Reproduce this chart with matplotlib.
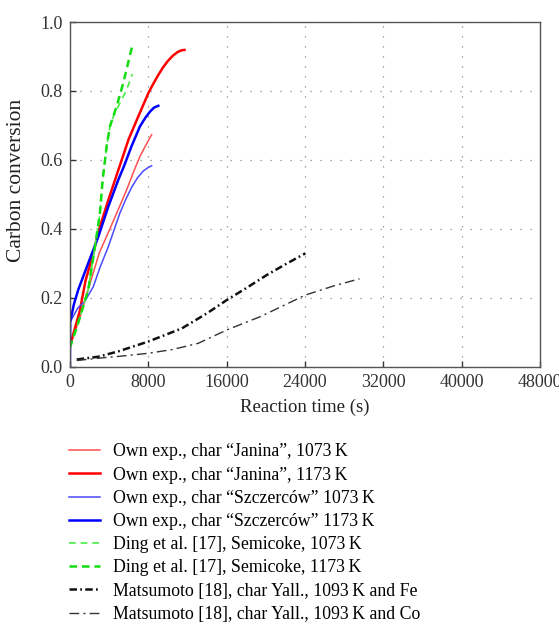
import matplotlib
matplotlib.use("Agg")
import matplotlib.pyplot as plt

plt.rcParams['font.family'] = ['Liberation Serif', 'DejaVu Serif']

# ---- data ----
janina_1073_x = [0, 500, 1000, 1500, 2150, 3000, 4090, 5000, 5790, 6500, 7150, 7800, 8350]
janina_1073_y = [0.06, 0.10, 0.14, 0.19, 0.25, 0.33, 0.40, 0.46, 0.513, 0.565, 0.61, 0.645, 0.673]

janina_1173_x = [0, 500, 1000, 1600, 2300, 3000, 4000, 5000, 6000, 7000, 8000, 8500, 9000, 9500,
                 10000, 10500, 11000, 11400, 11700]
janina_1173_y = [0.06, 0.11, 0.16, 0.25, 0.32, 0.40, 0.49, 0.575, 0.66, 0.727, 0.793, 0.82, 0.845,
                 0.868, 0.887, 0.902, 0.913, 0.918, 0.919]

szcz_1073_x = [0, 30, 800, 1530, 2390, 3100, 3920, 5110, 5700, 6300, 6900, 7500, 8000, 8350]
szcz_1073_y = [0.0, 0.13, 0.17, 0.19, 0.232, 0.29, 0.348, 0.446, 0.485, 0.52, 0.548, 0.568, 0.578, 0.583]

szcz_1173_x = [0, 30, 400, 850, 1870, 2900, 3920, 4940, 5500, 6300, 7150, 7700, 8180, 8600, 9030]
szcz_1173_y = [0.0, 0.13, 0.18, 0.223, 0.30, 0.377, 0.464, 0.542, 0.58, 0.64, 0.697, 0.722, 0.74, 0.752, 0.757]

ding_1073_x = [0, 850, 1870, 2560, 3070, 3340, 3750, 4090, 4500, 4940, 5790, 6370]
ding_1073_y = [0.055, 0.127, 0.223, 0.348, 0.446, 0.54, 0.639, 0.697, 0.73, 0.755, 0.803, 0.849]

ding_1173_x = [0, 850, 1870, 2560, 3070, 3340, 3750, 4090, 4770, 5450, 6370]
ding_1173_y = [0.055, 0.127, 0.223, 0.348, 0.446, 0.54, 0.639, 0.697, 0.755, 0.823, 0.931]

mats_fe_x = [700, 2900, 5000, 8000, 11420, 14000, 16050, 18000, 20100, 22000, 24050]
mats_fe_y = [0.021, 0.029, 0.045, 0.073, 0.111, 0.155, 0.194, 0.228, 0.266, 0.297, 0.329]

mats_co_x = [700, 3000, 5000, 8000, 10500, 13110, 16050, 19420, 22000, 24050, 27000, 29570]
mats_co_y = [0.018, 0.025, 0.03, 0.039, 0.05, 0.068, 0.107, 0.145, 0.18, 0.208, 0.235, 0.255]

labels = [
    "Own exp., char \u201cJanina\u201d, 1073\u2009K",
    "Own exp., char \u201cJanina\u201d, 1173\u2009K",
    "Own exp., char \u201cSzczerc\u00f3w\u201d 1073\u2009K",
    "Own exp., char \u201cSzczerc\u00f3w\u201d 1173\u2009K",
    "Ding et al. [17], Semicoke, 1073\u2009K",
    "Ding et al. [17], Semicoke, 1173\u2009K",
    "Matsumoto [18], char Yall., 1093\u2009K and Fe",
    "Matsumoto [18], char Yall., 1093\u2009K and Co",
]

x_ticks = [0, 8000, 16000, 24000, 32000, 40000, 48000]
y_ticks = [0.0, 0.2, 0.4, 0.6, 0.8, 1.0]

fig = plt.figure(figsize=(5.59, 6.24), dpi=100)
ax = fig.add_axes([0.125, 0.4123, 0.841, 0.5524])

ax.plot(janina_1073_x, janina_1073_y, color='#ff5050', lw=1.1, label=labels[0])
ax.plot(janina_1173_x, janina_1173_y, color='#ff0000', lw=1.8, label=labels[1])
ax.plot(szcz_1073_x, szcz_1073_y, color='#4a4aff', lw=1.1, label=labels[2])
ax.plot(szcz_1173_x, szcz_1173_y, color='#0000ff', lw=1.8, label=labels[3])
ax.plot(ding_1073_x, ding_1073_y, color='#44ee44', lw=1.2, ls=(0, (4, 3)), label=labels[4])
ax.plot(ding_1173_x, ding_1173_y, color='#11dd11', lw=1.8, ls=(0, (3, 2)), label=labels[5])
ax.plot(mats_fe_x, mats_fe_y, color='#111111', lw=1.8, ls=(0, (3, 1.3, 0.7, 1.3)), label=labels[6])
ax.plot(mats_co_x, mats_co_y, color='#333333', lw=1.0, ls=(0, (7, 3, 1.5, 3)), label=labels[7])

ax.set_xlim(0, 48000)
ax.set_ylim(0, 1.0)
ax.set_xticks(x_ticks)
ax.set_xticklabels([str(t) for t in x_ticks])
ax.set_yticks(y_ticks)
ax.set_yticklabels(["%.1f" % t for t in y_ticks])
ax.tick_params(direction='in', length=4, width=1, labelsize=13, colors='#333333', pad=5)
for s in ax.spines.values():
    s.set_color('#555555')
    s.set_linewidth(1.0)
ax.grid(True, color='#888888', lw=0.9, ls=(0, (1, 7)))
ax.set_xlabel("Reaction time (s)", fontsize=13.5, color='#222222', labelpad=6)
ax.set_ylabel("Carbon conversion", fontsize=15.5, color='#222222')
ax.yaxis.set_label_coords(-0.094, 0.54)

handles, labs = ax.get_legend_handles_labels()
fig.legend(handles, labs, loc='upper left', bbox_to_anchor=(0.124, 0.2895),
           frameon=False, fontsize=12.8, handlelength=1.75, handletextpad=0.73,
           labelspacing=0.35, borderpad=0, borderaxespad=0)

fig.savefig("out.png", dpi=100)
